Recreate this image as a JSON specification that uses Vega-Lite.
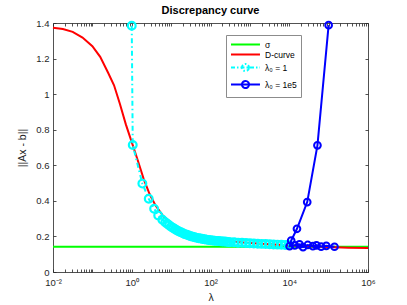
{
  "$schema": "https://vega.github.io/schema/vega-lite/v6.json",
  "width": 315,
  "height": 249,
  "autosize": "none",
  "padding": {"left": 53, "top": 23, "right": 39, "bottom": 33},
  "background": "white",
  "title": {"text": "Discrepancy curve", "font": "Liberation Sans", "fontSize": 11, "fontWeight": "bold", "color": "black", "offset": 2, "anchor": "middle"},
  "config": {
    "view": {"stroke": null},
    "font": "Liberation Sans",
    "axis": {"grid": false, "domainColor": "#262626", "tickColor": "#262626", "labelColor": "#262626", "titleColor": "#262626", "labelFont": "Liberation Sans", "titleFont": "Liberation Sans", "labelFontSize": 9.5, "titleFontSize": 10.5, "titleFontWeight": "normal", "domainWidth": 0.8, "tickWidth": 0.8}
  },
  "data": {"values": [
    {"s": "σ", "i": 0, "lam": 0.01, "v": 0.142},
    {"s": "σ", "i": 1, "lam": 1000000, "v": 0.142},
    {"s": "D-curve", "i": 0, "lam": 0.01, "v": 1.373},
    {"s": "D-curve", "i": 1, "lam": 0.0178, "v": 1.366},
    {"s": "D-curve", "i": 2, "lam": 0.0316, "v": 1.35},
    {"s": "D-curve", "i": 3, "lam": 0.0562, "v": 1.318},
    {"s": "D-curve", "i": 4, "lam": 0.1, "v": 1.27},
    {"s": "D-curve", "i": 5, "lam": 0.158, "v": 1.21},
    {"s": "D-curve", "i": 6, "lam": 0.251, "v": 1.12},
    {"s": "D-curve", "i": 7, "lam": 0.355, "v": 1.05},
    {"s": "D-curve", "i": 8, "lam": 0.501, "v": 0.945},
    {"s": "D-curve", "i": 9, "lam": 0.708, "v": 0.83},
    {"s": "D-curve", "i": 10, "lam": 1.0, "v": 0.73},
    {"s": "D-curve", "i": 11, "lam": 1.413, "v": 0.63},
    {"s": "D-curve", "i": 12, "lam": 1.995, "v": 0.525},
    {"s": "D-curve", "i": 13, "lam": 2.818, "v": 0.44},
    {"s": "D-curve", "i": 14, "lam": 3.981, "v": 0.375},
    {"s": "D-curve", "i": 15, "lam": 6.31, "v": 0.315},
    {"s": "D-curve", "i": 16, "lam": 10, "v": 0.275},
    {"s": "D-curve", "i": 17, "lam": 17.78, "v": 0.235},
    {"s": "D-curve", "i": 18, "lam": 31.62, "v": 0.21},
    {"s": "D-curve", "i": 19, "lam": 100, "v": 0.185},
    {"s": "D-curve", "i": 20, "lam": 316, "v": 0.172},
    {"s": "D-curve", "i": 21, "lam": 1000, "v": 0.163},
    {"s": "D-curve", "i": 22, "lam": 3162, "v": 0.156},
    {"s": "D-curve", "i": 23, "lam": 10000, "v": 0.15},
    {"s": "D-curve", "i": 24, "lam": 31623, "v": 0.145},
    {"s": "D-curve", "i": 25, "lam": 100000, "v": 0.14},
    {"s": "D-curve", "i": 26, "lam": 316228, "v": 0.137},
    {"s": "D-curve", "i": 27, "lam": 1000000, "v": 0.135},
    {"s": "λ₀ = 1", "i": 0, "lam": 1.0, "v": 1.384},
    {"s": "λ₀ = 1", "i": 1, "lam": 1.06, "v": 0.714},
    {"s": "λ₀ = 1", "i": 2, "lam": 1.86, "v": 0.497},
    {"s": "λ₀ = 1", "i": 3, "lam": 2.7, "v": 0.412},
    {"s": "λ₀ = 1", "i": 4, "lam": 3.7, "v": 0.356},
    {"s": "λ₀ = 1", "i": 5, "lam": 4.7, "v": 0.318},
    {"s": "λ₀ = 1", "i": 6, "lam": 6.0, "v": 0.294},
    {"s": "λ₀ = 1", "i": 7, "lam": 7.079, "v": 0.28},
    {"s": "λ₀ = 1", "i": 8, "lam": 7.943, "v": 0.271},
    {"s": "λ₀ = 1", "i": 9, "lam": 8.913, "v": 0.263},
    {"s": "λ₀ = 1", "i": 10, "lam": 10, "v": 0.255},
    {"s": "λ₀ = 1", "i": 11, "lam": 11.22, "v": 0.248},
    {"s": "λ₀ = 1", "i": 12, "lam": 12.59, "v": 0.241},
    {"s": "λ₀ = 1", "i": 13, "lam": 14.13, "v": 0.234},
    {"s": "λ₀ = 1", "i": 14, "lam": 15.85, "v": 0.228},
    {"s": "λ₀ = 1", "i": 15, "lam": 17.78, "v": 0.223},
    {"s": "λ₀ = 1", "i": 16, "lam": 19.95, "v": 0.218},
    {"s": "λ₀ = 1", "i": 17, "lam": 22.39, "v": 0.213},
    {"s": "λ₀ = 1", "i": 18, "lam": 25.12, "v": 0.209},
    {"s": "λ₀ = 1", "i": 19, "lam": 28.18, "v": 0.205},
    {"s": "λ₀ = 1", "i": 20, "lam": 31.62, "v": 0.201},
    {"s": "λ₀ = 1", "i": 21, "lam": 35.48, "v": 0.198},
    {"s": "λ₀ = 1", "i": 22, "lam": 39.81, "v": 0.195},
    {"s": "λ₀ = 1", "i": 23, "lam": 44.67, "v": 0.192},
    {"s": "λ₀ = 1", "i": 24, "lam": 50.12, "v": 0.19},
    {"s": "λ₀ = 1", "i": 25, "lam": 56.23, "v": 0.188},
    {"s": "λ₀ = 1", "i": 26, "lam": 63.1, "v": 0.186},
    {"s": "λ₀ = 1", "i": 27, "lam": 70.79, "v": 0.184},
    {"s": "λ₀ = 1", "i": 28, "lam": 79.43, "v": 0.182},
    {"s": "λ₀ = 1", "i": 29, "lam": 89.13, "v": 0.18},
    {"s": "λ₀ = 1", "i": 30, "lam": 100, "v": 0.179},
    {"s": "λ₀ = 1", "i": 31, "lam": 112.2, "v": 0.177},
    {"s": "λ₀ = 1", "i": 32, "lam": 125.9, "v": 0.176},
    {"s": "λ₀ = 1", "i": 33, "lam": 141.3, "v": 0.175},
    {"s": "λ₀ = 1", "i": 34, "lam": 158.5, "v": 0.174},
    {"s": "λ₀ = 1", "i": 35, "lam": 177.8, "v": 0.173},
    {"s": "λ₀ = 1", "i": 36, "lam": 199.5, "v": 0.172},
    {"s": "λ₀ = 1", "i": 37, "lam": 223.9, "v": 0.171},
    {"s": "λ₀ = 1", "i": 38, "lam": 251.2, "v": 0.17},
    {"s": "λ₀ = 1", "i": 39, "lam": 281.8, "v": 0.169},
    {"s": "λ₀ = 1", "i": 40, "lam": 316.2, "v": 0.168},
    {"s": "λ₀ = 1", "i": 41, "lam": 398.1, "v": 0.167},
    {"s": "λ₀ = 1", "i": 42, "lam": 501.2, "v": 0.165},
    {"s": "λ₀ = 1", "i": 43, "lam": 631, "v": 0.164},
    {"s": "λ₀ = 1", "i": 44, "lam": 794.3, "v": 0.163},
    {"s": "λ₀ = 1", "i": 45, "lam": 1000, "v": 0.162},
    {"s": "λ₀ = 1", "i": 46, "lam": 1259, "v": 0.16},
    {"s": "λ₀ = 1", "i": 47, "lam": 1585, "v": 0.159},
    {"s": "λ₀ = 1", "i": 48, "lam": 1995, "v": 0.158},
    {"s": "λ₀ = 1", "i": 49, "lam": 2512, "v": 0.157},
    {"s": "λ₀ = 1", "i": 50, "lam": 3162, "v": 0.156},
    {"s": "λ₀ = 1", "i": 51, "lam": 3981, "v": 0.155},
    {"s": "λ₀ = 1", "i": 52, "lam": 5012, "v": 0.154},
    {"s": "λ₀ = 1", "i": 53, "lam": 6310, "v": 0.153},
    {"s": "λ₀ = 1", "i": 54, "lam": 7943, "v": 0.152},
    {"s": "λ₀ = 1", "i": 55, "lam": 10000, "v": 0.151},
    {"s": "λ₀ = 1e5", "i": 0, "lam": 100000, "v": 1.388},
    {"s": "λ₀ = 1e5", "i": 1, "lam": 52000, "v": 0.712},
    {"s": "λ₀ = 1e5", "i": 2, "lam": 28600, "v": 0.393},
    {"s": "λ₀ = 1e5", "i": 3, "lam": 15700, "v": 0.243},
    {"s": "λ₀ = 1e5", "i": 4, "lam": 11200, "v": 0.177},
    {"s": "λ₀ = 1e5", "i": 5, "lam": 10200, "v": 0.145},
    {"s": "λ₀ = 1e5", "i": 6, "lam": 13800, "v": 0.15},
    {"s": "λ₀ = 1e5", "i": 7, "lam": 18200, "v": 0.155},
    {"s": "λ₀ = 1e5", "i": 8, "lam": 22400, "v": 0.14},
    {"s": "λ₀ = 1e5", "i": 9, "lam": 29500, "v": 0.152},
    {"s": "λ₀ = 1e5", "i": 10, "lam": 39800, "v": 0.145},
    {"s": "λ₀ = 1e5", "i": 11, "lam": 49000, "v": 0.15},
    {"s": "λ₀ = 1e5", "i": 12, "lam": 64600, "v": 0.143},
    {"s": "λ₀ = 1e5", "i": 13, "lam": 87100, "v": 0.147},
    {"s": "λ₀ = 1e5", "i": 14, "lam": 141000, "v": 0.142}
  ]},
  "layer": [
    {
      "transform": [{"filter": "datum.s === 'σ'"}],
      "mark": {"type": "line", "strokeWidth": 2},
      "encoding": {
        "x": {"field": "lam", "type": "quantitative",
          "scale": {"type": "log", "domain": [0.01, 1000000], "nice": false},
          "axis": {"orient": "bottom", "title": "λ", "titleX": 157.5, "titleY": 25, "titleAlign": "center", "titleBaseline": "middle", "labelPadding": 8, "tickSize": -3, "labelFlush": false, "labelOverlap": false,
            "values": [0.01,0.02,0.03,0.04,0.05,0.06,0.07,0.08,0.09,0.1,0.2,0.3,0.4,0.5,0.6,0.7,0.8,0.9,1,2,3,4,5,6,7,8,9,10,20,30,40,50,60,70,80,90,100,200,300,400,500,600,700,800,900,1000,2000,3000,4000,5000,6000,7000,8000,9000,10000,20000,30000,40000,50000,60000,70000,80000,90000,100000,200000,300000,400000,500000,600000,700000,800000,900000,1000000],
            "labelExpr": "datum.value == 0.01 ? '10⁻²' : datum.value == 1 ? '10⁰' : datum.value == 100 ? '10²' : datum.value == 10000 ? '10⁴' : datum.value == 1000000 ? '10⁶' : ''"}},
        "y": {"field": "v", "type": "quantitative",
          "scale": {"domain": [0, 1.4], "nice": false},
          "axis": {"orient": "left", "title": "||Ax - b||", "titleX": -31, "titleY": 124.5, "titleAlign": "center", "titleBaseline": "middle", "titleAngle": -90, "labelPadding": 7, "tickSize": -3, "values": [0,0.2,0.4,0.6,0.8,1,1.2,1.4], "format": ".1~f"}},
        "color": {"field": "s", "type": "nominal",
          "scale": {"domain": ["σ", "D-curve", "λ₀ = 1", "λ₀ = 1e5"], "range": ["#00FF00", "#FF0000", "#00FFFF", "#0000FF"]},
          "legend": {"title": null, "orient": "none", "legendX": 173, "legendY": 12, "padding": 4,
            "strokeColor": "#8c8c8c", "fillColor": "white", "symbolSize": 81, "symbolStrokeWidth": 2,
            "labelFont": "Liberation Sans", "labelFontSize": 8.5, "labelColor": "black", "labelOffset": 24, "rowPadding": 0,
            "encode": {"symbols": {"update": {
              "shape": {"signal": "datum.value === 'σ' || datum.value === 'D-curve' ? 'M-1,0H5.44' : 'M-1,0H5.44M3,0A0.78,0.78,0,1,1,1.44,0A0.78,0.78,0,1,1,3,0'"},
              "strokeDash": {"signal": "datum.value === 'λ₀ = 1' ? [4,2,1.5,2] : [1,0]"},
              "fill": {"value": "transparent"},
              "strokeWidth": {"value": 2}
            }}}}},
        "order": {"field": "i", "type": "quantitative"}
      }
    },
    {
      "transform": [{"filter": "datum.s === 'D-curve'"}],
      "mark": {"type": "line", "strokeWidth": 2},
      "encoding": {
        "x": {"field": "lam", "type": "quantitative",
          "axis": {"orient": "top", "title": null, "labels": false, "tickSize": -3,
            "values": [0.01,0.02,0.03,0.04,0.05,0.06,0.07,0.08,0.09,0.1,0.2,0.3,0.4,0.5,0.6,0.7,0.8,0.9,1,2,3,4,5,6,7,8,9,10,20,30,40,50,60,70,80,90,100,200,300,400,500,600,700,800,900,1000,2000,3000,4000,5000,6000,7000,8000,9000,10000,20000,30000,40000,50000,60000,70000,80000,90000,100000,200000,300000,400000,500000,600000,700000,800000,900000,1000000]}},
        "y": {"field": "v", "type": "quantitative",
          "axis": {"orient": "right", "title": null, "labels": false, "tickSize": -3, "values": [0,0.2,0.4,0.6,0.8,1,1.2,1.4]}},
        "color": {"field": "s", "type": "nominal"},
        "order": {"field": "i", "type": "quantitative"}
      }
    },
    {
      "transform": [{"filter": "datum.s === 'λ₀ = 1'"}],
      "mark": {"type": "line", "strokeWidth": 2, "strokeDash": [5, 3, 1.5, 3]},
      "encoding": {
        "x": {"field": "lam", "type": "quantitative", "axis": null},
        "y": {"field": "v", "type": "quantitative", "axis": null},
        "color": {"field": "s", "type": "nominal"},
        "order": {"field": "i", "type": "quantitative"}
      }
    },
    {
      "transform": [{"filter": "datum.s === 'λ₀ = 1'"}],
      "mark": {"type": "point", "filled": false, "size": 60, "strokeWidth": 2.2, "opacity": 1},
      "encoding": {
        "x": {"field": "lam", "type": "quantitative", "axis": null},
        "y": {"field": "v", "type": "quantitative", "axis": null},
        "color": {"field": "s", "type": "nominal"}
      }
    },
    {
      "transform": [{"filter": "datum.s === 'λ₀ = 1e5'"}],
      "mark": {"type": "line", "strokeWidth": 2},
      "encoding": {
        "x": {"field": "lam", "type": "quantitative", "axis": null},
        "y": {"field": "v", "type": "quantitative", "axis": null},
        "color": {"field": "s", "type": "nominal"},
        "order": {"field": "i", "type": "quantitative"}
      }
    },
    {
      "transform": [{"filter": "datum.s === 'λ₀ = 1e5'"}],
      "mark": {"type": "point", "filled": false, "size": 45, "strokeWidth": 2, "opacity": 1},
      "encoding": {
        "x": {"field": "lam", "type": "quantitative", "axis": null},
        "y": {"field": "v", "type": "quantitative", "axis": null},
        "color": {"field": "s", "type": "nominal"}
      }
    }
  ]
}
